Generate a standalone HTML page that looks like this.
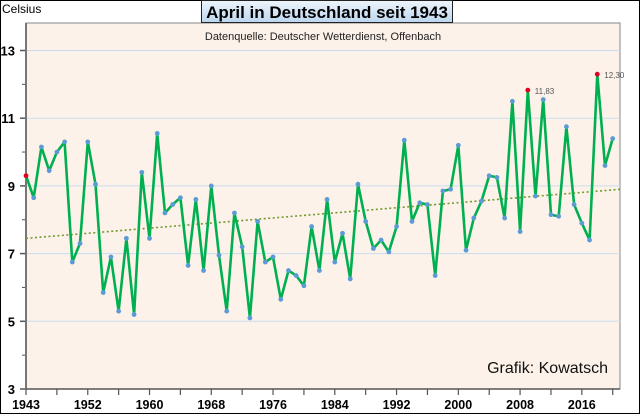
<!DOCTYPE html>
<html><head><meta charset="utf-8"><style>
body{margin:0;background:#fff;}
#wrap{position:relative;width:640px;height:414px;font-family:"Liberation Sans",sans-serif;}
</style></head><body>
<div id="wrap">
<svg id="svg" width="640" height="414" xmlns="http://www.w3.org/2000/svg">
<defs><linearGradient id="tg" x1="0" y1="0" x2="0" y2="1"><stop offset="0" stop-color="#eef5fc"/><stop offset="1" stop-color="#bcd6ef"/></linearGradient></defs>
<rect x="0.5" y="0.5" width="639" height="413" fill="#fff" stroke="#000"/>
<rect x="26" y="23" width="594" height="366" fill="#fdf2e9" stroke="#888"/>
<g id="grid"></g>
<line x1="26" y1="23" x2="26" y2="389" stroke="#777" stroke-width="2"/>
<line x1="26" y1="389" x2="620" y2="389" stroke="#555" stroke-width="1.5"/>
<g id="marks"></g>
<text x="2" y="13" font-size="12" fill="#000">Celsius</text>
<rect x="201.5" y="0.5" width="251" height="22" fill="url(#tg)" stroke="#222"/>
<text x="327" y="18" font-size="17" font-weight="bold" text-anchor="middle">April in Deutschland seit 1943</text>
<text x="323" y="40" font-size="11" text-anchor="middle" fill="#222">Datenquelle: Deutscher Wetterdienst, Offenbach</text>
<text x="608" y="373" font-size="16" text-anchor="end" fill="#111">Grafik: Kowatsch</text>
</svg>
</div>
<script>
const years = [];
for (let y = 1943; y <= 2019; y++) years.push(y);
const temps = [9.3,8.65,10.15,9.45,10.0,10.3,6.75,7.3,10.3,9.05,5.85,6.9,5.3,7.45,5.2,9.4,7.45,10.55,8.2,8.45,8.65,6.65,8.6,6.5,9.0,6.95,5.3,8.2,7.2,5.1,7.95,6.75,6.9,5.65,6.5,6.35,6.05,7.8,6.5,8.6,6.75,7.6,6.25,9.05,7.95,7.15,7.4,7.05,7.8,10.35,7.95,8.5,8.45,6.35,8.85,8.9,10.2,7.1,8.05,8.55,9.3,9.25,8.05,11.5,7.65,11.83,8.7,11.55,8.15,8.1,10.75,8.45,7.9,7.4,12.3,9.6,10.4];
const yTicks = [3,5,7,9,11,13];
const yMinor = [4,6,8,10,12];
const xTickLabels = ["1943","1952","1960","1968","1976","1984","1992","2000","2008","2016"];
const trendStartEnd = [7.45,8.9];
const labelled = [[2008,"11,83"],[2017,"12,30"]];

const NS="http://www.w3.org/2000/svg";
const X0=26, PX=7.72;
function xs(i){return X0+i*PX;}
function ys(v){return 389-(v-3)*33.85;}
function mk(tag,attrs,parent){const e=document.createElementNS(NS,tag);for(const k in attrs)e.setAttribute(k,attrs[k]);parent.appendChild(e);return e;}
const grid=document.getElementById('grid'), marks=document.getElementById('marks');
yTicks.forEach(v=>{
  if(v>3){const g=mk('line',{x1:27,x2:620,y1:ys(v),y2:ys(v),stroke:'#c9dcef','stroke-width':1},grid);
  
  }
  const t=mk('line',{x1:20,x2:26,y1:ys(v),y2:ys(v),stroke:'#555','stroke-width':1.5},grid);
  
  
  const l=mk('text',{x:15,y:ys(v)+5,'font-size':13,'font-weight':'bold','text-anchor':'end'},grid);
  l.textContent=v;
  
  
});
yMinor.forEach(v=>{
  const t=mk('line',{x1:22,x2:26,y1:ys(v),y2:ys(v),stroke:'#555','stroke-width':1},grid);
  
  
});
for(let i=0;i<years.length;i+=4){
  const t=mk('line',{x1:xs(i),x2:xs(i),y1:389,y2:395,stroke:'#555','stroke-width':1.2},grid);
  
  
}
xTickLabels.forEach((s,k)=>{
  const l=mk('text',{x:xs(k*8),y:409,'font-size':12.5,'font-weight':'bold','text-anchor':'middle'},grid);
  l.textContent=s;
  
  
});
const tr=mk('line',{x1:26,x2:620,y1:ys(trendStartEnd[0]),y2:ys(trendStartEnd[1]),stroke:'#6f9a2e','stroke-width':1.6,'stroke-dasharray':'2,2.5'},marks);


const pts=temps.map((v,i)=>xs(i).toFixed(1)+','+ys(v).toFixed(1)).join(' ');
const pl=mk('polyline',{points:pts,fill:'none',stroke:'#00b050','stroke-width':2.6,'stroke-linejoin':'round'},marks);


const red=new Set([1943,2008,2017]);
temps.forEach((v,i)=>{
  const c=mk('circle',{cx:xs(i),cy:ys(v),r:2.4,fill:red.has(years[i])?'#e00020':'#5b9bd5'},marks);
  
  
});
labelled.forEach(([yr,s])=>{
  const i=years.indexOf(yr);
  const l=mk('text',{x:xs(i)+7,y:ys(temps[i])+4,'font-size':8,fill:'#555'},marks);
  l.textContent=s;
  
  
});
</script>
</body></html>
